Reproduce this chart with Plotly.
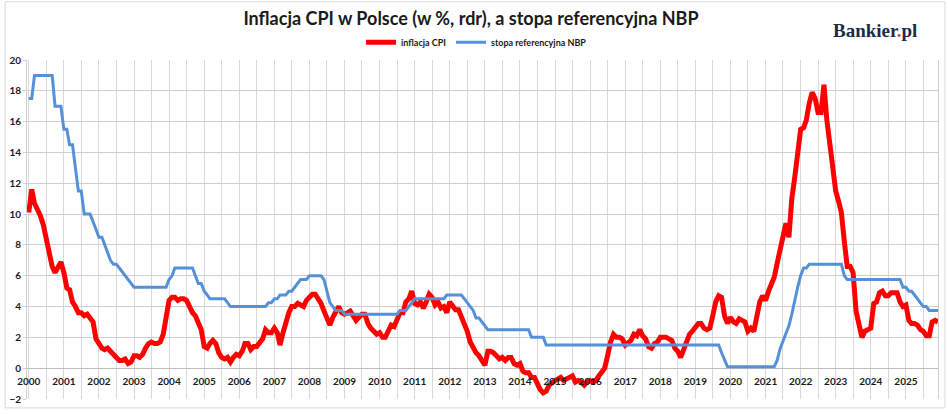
import pandas as pd
import plotly.graph_objects as go

title_text = "Inflacja CPI w Polsce (w %, rdr), a stopa referencyjna NBP"
name_cpi = "inflacja CPI"
name_rate = "stopa referencyjna NBP"

# monthly positions on the chart (first point = 2000-01)
start_month = "2000-01-01"

cpi = [
    10.1,
    11.6, 10.7, 10.3, 9.9, 9.3, 8.5,
    7.4, 6.6, 6.2, 6.6, 6.9, 6.2, 5.2, 5.1, 4.3, 4.0, 3.6, 3.6,
    3.4, 3.5, 3.3, 3.0, 1.9, 1.6, 1.3, 1.2, 1.3, 1.1, 0.9, 0.8,
    0.5, 0.5, 0.6, 0.3, 0.4, 0.8, 0.8, 0.7, 0.9, 1.3, 1.6, 1.7,
    1.6, 1.6, 1.7, 2.2, 3.4, 4.4, 4.6, 4.6, 4.4, 4.5, 4.5, 4.4,
    4.0, 3.6, 3.4, 3.0, 2.5, 1.4, 1.3, 1.6, 1.8, 1.6, 1.0, 0.7,
    0.6, 0.7, 0.4, 0.7, 0.9, 0.8, 1.1, 1.6, 1.6, 1.2, 1.4, 1.4,
    1.6, 1.9, 2.5, 2.3, 2.3, 2.6, 2.3, 1.5, 2.3, 3.0, 3.6, 4.0,
    4.0, 4.2, 4.1, 4.0, 4.4, 4.6, 4.8, 4.8, 4.5, 4.2, 3.7, 3.3,
    2.8, 3.3, 3.6, 4.0, 3.6, 3.5, 3.6, 3.7, 3.4, 3.1, 3.3, 3.5,
    3.5, 2.9, 2.6, 2.4, 2.2, 2.3, 2.0, 2.0, 2.5, 2.8, 2.7, 3.1,
    3.6, 3.6, 4.3, 4.5, 5.0, 4.2, 4.1, 4.3, 3.9, 4.3, 4.8, 4.6,
    4.1, 4.3, 3.9, 4.0, 3.6, 4.3, 4.0, 3.8, 3.8, 3.4, 2.8, 2.4,
    1.7, 1.3, 1.0, 0.8, 0.5, 0.2, 1.1, 1.1, 1.0, 0.8, 0.6, 0.7,
    0.5, 0.7, 0.7, 0.3, 0.2, 0.3, -0.2, -0.3, -0.3, -0.6, -0.6, -1.0,
    -1.4, -1.6, -1.5, -1.1, -0.9, -0.8, -0.7, -0.6, -0.8, -0.7, -0.6, -0.5,
    -0.9, -0.8, -0.9, -1.1, -0.9, -0.8, -0.9, -0.8, -0.5, -0.2, 0.0, 0.8,
    1.7, 2.2, 2.0, 2.0, 1.9, 1.5, 1.7, 1.8, 2.2, 2.1, 2.5, 2.1,
    1.9, 1.4, 1.3, 1.6, 1.7, 2.0, 2.0, 2.0, 1.9, 1.8, 1.3, 1.1,
    0.7, 1.2, 1.7, 2.2, 2.4, 2.6, 2.9, 2.9, 2.6, 2.5, 2.6, 3.4,
    4.3, 4.7, 4.6, 3.4, 2.9, 3.3, 3.0, 2.9, 3.2, 3.1, 3.0, 2.4,
    2.6, 2.4, 3.2, 4.3, 4.7, 4.4, 5.0, 5.5, 5.9, 6.8, 7.8, 8.6,
    9.4, 8.5, 11.0, 12.4, 13.9, 15.5, 15.6, 16.1, 17.2, 17.9, 17.5, 16.6,
    16.6, 18.4, 16.1, 14.7, 13.0, 11.5, 10.8, 10.1, 8.2, 6.6, 6.6, 6.2,
    3.7, 2.8, 2.0, 2.4, 2.5, 2.6, 4.2, 4.3, 4.9, 5.0, 4.7, 4.7,
    4.9, 4.9, 4.9, 4.3, 4.0, 4.1, 3.1, 2.9, 2.9, 2.8, 2.5, 2.4,
    2.1, 2.1, 3.0, 3.1, 3.0,
]

stopa = [
    17.5,
    17.5, 19.0, 19.0, 19.0, 19.0, 19.0,
    19.0, 19.0, 17.0, 17.0, 17.0, 15.5, 15.5, 14.5, 14.5, 13.0, 11.5, 11.5,
    10.0, 10.0, 10.0, 9.5, 9.0, 8.5, 8.5, 8.0, 7.5, 7.0, 6.75, 6.75,
    6.5, 6.25, 6.0, 5.75, 5.5, 5.25, 5.25, 5.25, 5.25, 5.25, 5.25, 5.25,
    5.25, 5.25, 5.25, 5.25, 5.25, 5.75, 6.0, 6.5, 6.5, 6.5, 6.5, 6.5,
    6.5, 6.5, 6.0, 5.5, 5.5, 5.0, 4.75, 4.5, 4.5, 4.5, 4.5, 4.5,
    4.5, 4.25, 4.0, 4.0, 4.0, 4.0, 4.0, 4.0, 4.0, 4.0, 4.0, 4.0,
    4.0, 4.0, 4.0, 4.25, 4.25, 4.5, 4.5, 4.75, 4.75, 4.75, 5.0, 5.0,
    5.25, 5.5, 5.75, 5.75, 5.75, 6.0, 6.0, 6.0, 6.0, 6.0, 5.75, 5.0,
    4.25, 4.0, 3.75, 3.75, 3.75, 3.5, 3.5, 3.5, 3.5, 3.5, 3.5, 3.5,
    3.5, 3.5, 3.5, 3.5, 3.5, 3.5, 3.5, 3.5, 3.5, 3.5, 3.5, 3.5,
    3.75, 3.75, 3.75, 4.0, 4.25, 4.5, 4.5, 4.5, 4.5, 4.5, 4.5, 4.5,
    4.5, 4.5, 4.5, 4.5, 4.75, 4.75, 4.75, 4.75, 4.75, 4.75, 4.5, 4.25,
    4.0, 3.75, 3.25, 3.25, 3.0, 2.75, 2.5, 2.5, 2.5, 2.5, 2.5, 2.5,
    2.5, 2.5, 2.5, 2.5, 2.5, 2.5, 2.5, 2.5, 2.5, 2.0, 2.0, 2.0,
    2.0, 2.0, 1.5, 1.5, 1.5, 1.5, 1.5, 1.5, 1.5, 1.5, 1.5, 1.5,
    1.5, 1.5, 1.5, 1.5, 1.5, 1.5, 1.5, 1.5, 1.5, 1.5, 1.5, 1.5,
    1.5, 1.5, 1.5, 1.5, 1.5, 1.5, 1.5, 1.5, 1.5, 1.5, 1.5, 1.5,
    1.5, 1.5, 1.5, 1.5, 1.5, 1.5, 1.5, 1.5, 1.5, 1.5, 1.5, 1.5,
    1.5, 1.5, 1.5, 1.5, 1.5, 1.5, 1.5, 1.5, 1.5, 1.5, 1.5, 1.5,
    1.5, 1.5, 1.0, 0.5, 0.1, 0.1, 0.1, 0.1, 0.1, 0.1, 0.1, 0.1,
    0.1, 0.1, 0.1, 0.1, 0.1, 0.1, 0.1, 0.1, 0.1, 0.5, 1.25, 1.75,
    2.25, 2.75, 3.5, 4.5, 5.25, 6.0, 6.5, 6.5, 6.75, 6.75, 6.75, 6.75,
    6.75, 6.75, 6.75, 6.75, 6.75, 6.75, 6.75, 6.75, 6.0, 5.75, 5.75, 5.75,
    5.75, 5.75, 5.75, 5.75, 5.75, 5.75, 5.75, 5.75, 5.75, 5.75, 5.75, 5.75,
    5.75, 5.75, 5.75, 5.75, 5.25, 5.25, 5.0, 5.0, 4.75, 4.5, 4.25, 4.0,
    4.0, 3.75, 3.75, 3.75, 3.75,
]

y_ticks = [-2, 0, 2, 4, 6, 8, 10, 12, 14, 16, 18, 20]

months = pd.date_range(start_month, periods=len(cpi), freq="MS")

RED = "#ff0000"
BLUE = "#5590d8"
GRID = "#d9d9d9"
FONT = "Lato"

fig = go.Figure()
fig.add_trace(go.Scatter(x=months, y=cpi, name=name_cpi, mode="lines",
                         line=dict(color=RED, width=5)))
fig.add_trace(go.Scatter(x=months, y=stopa, name=name_rate, mode="lines",
                         line=dict(color=BLUE, width=3)))

W, H = 948, 414
ml, mr, mt, mb = 23, 9, 60, 11
pw, ph = W - ml - mr, H - mt - mb


def px_x(p):
    return (p - ml) / pw


def px_y(p):
    return (H - mb - p) / ph


fig.update_layout(
    width=W, height=H,
    margin=dict(l=ml, r=mr, t=mt, b=mb),
    paper_bgcolor="white", plot_bgcolor="white",
    font=dict(family=FONT, color="#1a1a1a"),
    title=dict(text=title_text, x=471 / W, xanchor="center", y=1 - 19 / H,
               yanchor="middle", font=dict(family=FONT, size=18, color="#1a1a1a", weight="bold")),
    showlegend=True,
    legend=dict(orientation="h", x=px_x(475), xanchor="center", y=px_y(42),
                yanchor="middle", font=dict(family=FONT, size=9, weight="bold"),
                bgcolor="rgba(0,0,0,0)", itemwidth=30, tracegroupgap=0),
    xaxis=dict(type="date", range=["1999-12-14", "2025-12-01"],
               anchor="free", position=2 / 22,
               tick0="2000-01-01", dtick="M12", tickformat="%Y",
               showgrid=True, gridcolor=GRID, gridwidth=1,
               minor=dict(dtick="M6", showgrid=True, gridcolor=GRID, gridwidth=1),
               showline=False, ticks="", zeroline=False, ticklabelstandoff=6,
               tickfont=dict(family=FONT, size=10, color="#1a1a1a", weight="bold")),
    yaxis=dict(range=[-2, 20], tickvals=y_ticks, showgrid=True, gridcolor="#cfcfcf",
               gridwidth=1.3, zeroline=True, zerolinecolor="#bfbfbf", zerolinewidth=1.3,
               showline=True, linecolor="#cfcfcf", linewidth=1, mirror=True,
               ticks="outside", ticklen=3, tickcolor="#cfcfcf",
               tickfont=dict(family=FONT, size=10, color="#1a1a1a", weight="bold")),
    shapes=[dict(type="rect", xref="paper", yref="paper",
                 x0=px_x(1), x1=px_x(946), y0=px_y(412), y1=px_y(1),
                 line=dict(color="#d9d9d9", width=1), fillcolor="rgba(0,0,0,0)",
                 layer="below")],
    annotations=[dict(text="Bankier<span style='color:#e8452c'>.</span>pl",
                      xref="paper", yref="paper", x=px_x(876), y=px_y(30),
                      xanchor="center", yanchor="middle", showarrow=False,
                      font=dict(family="Liberation Serif", size=19, color="#1b2a4a",
                                weight="bold"))],
)

fig.write_html("out.html", config={"displayModeBar": False},
               post_script="document.body.style.margin='0';")
